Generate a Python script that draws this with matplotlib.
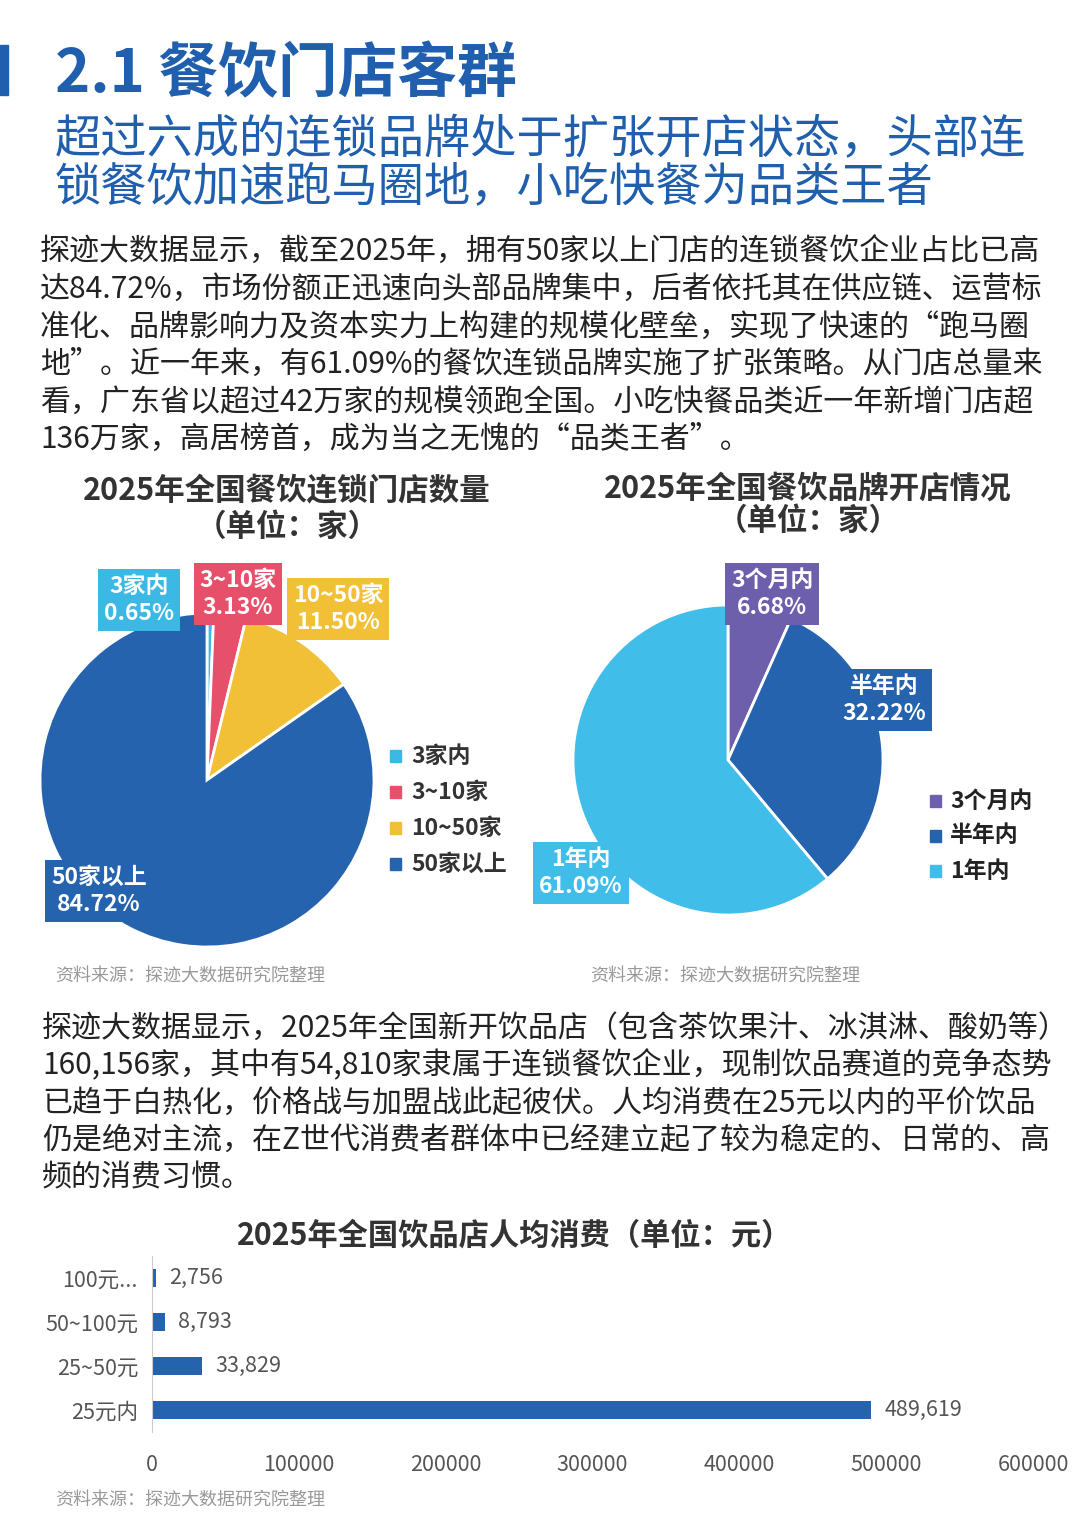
import matplotlib
matplotlib.use("Agg")
import matplotlib.pyplot as plt
from matplotlib.patches import Rectangle

plt.rcParams['font.family'] = ['Noto Sans CJK SC', 'DejaVu Sans']

W, H = 1080, 1521
BLUE = '#1f5fae'
DARK = '#2563ae'

pie1_labels = ['3家内', '3~10家', '10~50家', '50家以上']
pie1_values = [0.65, 3.13, 11.50, 84.72]
pie1_colors = ['#3bb8e3', '#e6506a', '#f2c037', DARK]

pie2_labels = ['3个月内', '半年内', '1年内']
pie2_values = [6.68, 32.22, 61.09]
pie2_colors = ['#6e5fad', DARK, '#41bdea']

bar_cats = ['25元内', '25~50元', '50~100元', '100元...']
bar_vals = [489619, 33829, 8793, 2756]

fig = plt.figure(figsize=(W/100, H/100), dpi=100)

def ax_px(x0, y0, x1, y1):
    return fig.add_axes([x0/W, 1-y1/H, (x1-x0)/W, (y1-y0)/H])

def txt(x, y, s, **kw):
    fig.text(x/W, 1-y/H, s, **kw)

# header
fig.patches.append(Rectangle((0, 1-95/H), 8/W, 50/H, transform=fig.transFigure, color=BLUE))
txt(55, 75, '2.1 餐饮门店客群', fontsize=43, fontweight='bold', color=BLUE, va='center')
txt(55, 140, '超过六成的连锁品牌处于扩张开店状态，头部连', fontsize=33.3, color=BLUE, va='center')
txt(55, 188, '锁餐饮加速跑马圈地，小吃快餐为品类王者', fontsize=33.3, color=BLUE, va='center')

para1 = ['探迹大数据显示，截至2025年，拥有50家以上门店的连锁餐饮企业占比已高',
         '达84.72%，市场份额正迅速向头部品牌集中，后者依托其在供应链、运营标',
         '准化、品牌影响力及资本实力上构建的规模化壁垒，实现了快速的“跑马圈',
         '地”。近一年来，有61.09%的餐饮连锁品牌实施了扩张策略。从门店总量来',
         '看，广东省以超过42万家的规模领跑全国。小吃快餐品类近一年新增门店超',
         '136万家，高居榜首，成为当之无愧的“品类王者”。']
for i, l in enumerate(para1):
    txt(40, 252 + i*37.5, l, fontsize=21.6, color='#222222', va='center')

para2 = ['探迹大数据显示，2025年全国新开饮品店（包含茶饮果汁、冰淇淋、酸奶等）',
         '160,156家，其中有54,810家隶属于连锁餐饮企业，现制饮品赛道的竞争态势',
         '已趋于白热化，价格战与加盟战此起彼伏。人均消费在25元以内的平价饮品',
         '仍是绝对主流，在Z世代消费者群体中已经建立起了较为稳定的、日常的、高',
         '频的消费习惯。']
for i, l in enumerate(para2):
    txt(42, 1028 + i*37.5, l, fontsize=21.6, color='#222222', va='center')

# pie 1
txt(287, 491, '2025年全国餐饮连锁门店数量', fontsize=22, fontweight='bold', color='#333333', ha='center', va='center')
txt(287, 527, '（单位：家）', fontsize=22, fontweight='bold', color='#333333', ha='center', va='center')
ax1 = ax_px(40, 613, 374, 947)
ax1.pie(pie1_values, colors=pie1_colors, startangle=90, counterclock=False,
        wedgeprops=dict(edgecolor='white', linewidth=2))
ax1.set_xlim(-1, 1); ax1.set_ylim(-1, 1)
ax1.set_aspect('equal')
def box(x, y, s, c, fs=16.5):
    txt(x, y, s, fontsize=fs, fontweight='bold', color='white', ha='center', va='center',
        linespacing=1.2, bbox=dict(boxstyle='square,pad=0.25', fc=c, ec='none'))
box(139, 600, '3家内\n0.65%', pie1_colors[0])
box(238, 594, '3~10家\n3.13%', pie1_colors[1])
box(338, 609, '10~50家\n11.50%', pie1_colors[2])
box(99, 891, '50家以上\n84.72%', pie1_colors[3])
for i, (l, c) in enumerate(zip(pie1_labels, pie1_colors)):
    y = 756 + i*36
    fig.patches.append(Rectangle((390/W, 1-(y+6)/H), 11/W, 12/H, transform=fig.transFigure, color=c))
    txt(411, y, l, fontsize=16.5, fontweight='bold', color='#333333', va='center')
txt(55, 976, '资料来源：探迹大数据研究院整理', fontsize=13, color='#999999', style='italic', va='center')

# pie 2
txt(808, 489, '2025年全国餐饮品牌开店情况', fontsize=22, fontweight='bold', color='#333333', ha='center', va='center')
txt(808, 521, '（单位：家）', fontsize=22, fontweight='bold', color='#333333', ha='center', va='center')
ax2 = ax_px(573, 605, 883, 915)
ax2.pie(pie2_values, colors=pie2_colors, startangle=90, counterclock=False,
        wedgeprops=dict(edgecolor='white', linewidth=2))
ax2.set_xlim(-1, 1); ax2.set_ylim(-1, 1)
ax2.set_aspect('equal')
box(772, 594, '3个月内\n6.68%', pie2_colors[0])
box(884, 700, '半年内\n32.22%', pie2_colors[1])
box(581, 873, '1年内\n61.09%', pie2_colors[2])
for i, (l, c) in enumerate(zip(pie2_labels, pie2_colors)):
    y = 801 + i*35
    fig.patches.append(Rectangle((930/W, 1-(y+6)/H), 11/W, 12/H, transform=fig.transFigure, color=c))
    txt(950, y, l, fontsize=16.5, fontweight='bold', color='#222222', va='center')
txt(590, 976, '资料来源：探迹大数据研究院整理', fontsize=13, color='#999999', style='italic', va='center')

# bar chart
txt(515, 1236, '2025年全国饮品店人均消费（单位：元）', fontsize=21.8, fontweight='bold', color='#333333', ha='center', va='center')
ax3 = ax_px(152, 1256, 1033, 1432)
ypos = list(range(len(bar_cats)))
ax3.barh(ypos, bar_vals, height=0.42, color=DARK)
ax3.set_ylim(-0.5, 3.5)
ax3.set_xlim(0, 600000)
ax3.set_yticks(ypos)
ax3.set_yticklabels(bar_cats, fontsize=15.5, color='#555555')
ax3.set_xticks([0, 100000, 200000, 300000, 400000, 500000, 600000])
ax3.set_xticklabels(['0', '100000', '200000', '300000', '400000', '500000', '600000'], fontsize=15.5, color='#555555')
ax3.tick_params(length=0, pad=10)
ax3.tick_params(axis='x', pad=16)
for s in ['top', 'right', 'bottom']:
    ax3.spines[s].set_visible(False)
ax3.spines['left'].set_color('#cccccc')
for y, v in zip(ypos, bar_vals):
    ax3.text(v + 9000, y, f'{v:,}', va='center', fontsize=15.5, color='#555555')
txt(55, 1500, '资料来源：探迹大数据研究院整理', fontsize=13, color='#999999', style='italic', va='center')

fig.savefig('out.png', dpi=100)
